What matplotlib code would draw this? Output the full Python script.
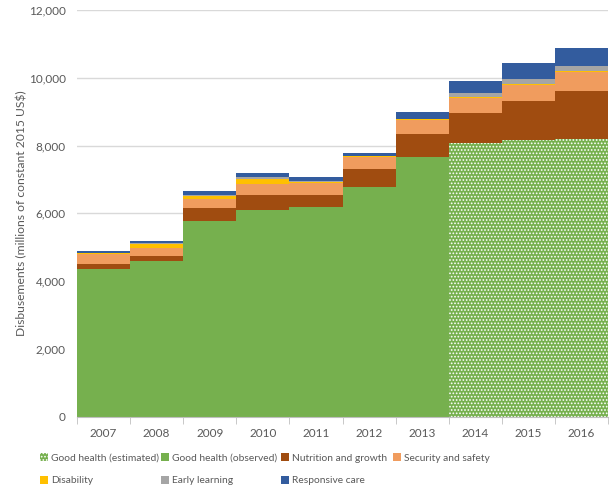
import matplotlib.pyplot as plt
import numpy as np

plt.rcParams['font.family'] = ['Lato', 'DejaVu Sans']
plt.rcParams['hatch.color'] = 'white'
plt.rcParams['hatch.linewidth'] = 0.8

years = ['2007', '2008', '2009', '2010', '2011', '2012', '2013', '2014', '2015', '2016']
health_obs = [4350, 4580, 5760, 6100, 6200, 6790, 7660, 0, 0, 0]
health_est = [0, 0, 0, 0, 0, 0, 0, 8070, 8170, 8200]
nutrition = [170, 170, 390, 440, 345, 510, 680, 900, 1130, 1410]
security = [270, 240, 280, 320, 340, 370, 420, 440, 490, 570]
disability = [30, 110, 70, 150, 35, 10, 10, 10, 10, 10]
early = [20, 20, 40, 60, 45, 20, 10, 130, 170, 170]
responsive = [60, 60, 130, 130, 100, 90, 200, 360, 460, 520]

fig = plt.figure(figsize=(6.15, 4.95), dpi=100)
ax = fig.add_axes([0.125, 0.158, 0.864, 0.822])

x = np.arange(len(years))
bottom = np.zeros(len(years))

handles = {}
h = ax.bar(x, health_obs, width=1.0, bottom=bottom, color='#76B04E', linewidth=0, zorder=2)
handles['Good health (observed)'] = h
bottom += health_obs
h = ax.bar(x, health_est, width=1.0, bottom=bottom, color='#76B04E', linewidth=0,
           hatch='.....', zorder=2)
handles['Good health (estimated)'] = h
bottom += health_est

layers = [('Nutrition and growth', nutrition, '#A04C10'),
          ('Security and safety', security, '#F09C5E'),
          ('Disability', disability, '#FFC000'),
          ('Early learning', early, '#A5A5A5'),
          ('Responsive care', responsive, '#335C9E')]
for name, vals, col in layers:
    h = ax.bar(x, vals, width=1.0, bottom=bottom, color=col, linewidth=0, zorder=2)
    handles[name] = h
    bottom += vals

ax.set_xlim(-0.5, 9.5)
ax.set_ylim(0, 12000)
ax.set_yticks(np.arange(0, 12001, 2000))
ax.set_yticklabels([f'{v:,}' for v in range(0, 12001, 2000)])
ax.yaxis.grid(True, color='#D9D9D9', linewidth=1, zorder=0)
ax.set_axisbelow(True)
ax.tick_params(axis='y', length=0, labelsize=8.5, labelcolor='#595959', pad=8)

ax.set_xticks(x)
ax.set_xticklabels(years)
ax.set_xticks(np.arange(-0.5, 10, 1), minor=True)
ax.tick_params(axis='x', which='major', length=0, labelsize=8.5, labelcolor='#595959', pad=8)
ax.tick_params(axis='x', which='minor', length=5, color='#BFBFBF')

for s in ['top', 'right', 'left']:
    ax.spines[s].set_visible(False)
ax.spines['bottom'].set_color('#BFBFBF')

ax.set_ylabel('Disbusements (millions of constant 2015 US$)', fontsize=8.7,
              color='#595959', labelpad=1)

# legend laid out in fixed-width columns, as in the original
columns = [['Good health (estimated)', 'Disability'],
           ['Good health (observed)', 'Early learning'],
           ['Nutrition and growth', 'Responsive care'],
           ['Security and safety']]
col_x = [0.065, 0.262, 0.457, 0.639]
for cx, names in zip(col_x, columns):
    fig.legend([handles[k] for k in names], names, loc='upper left',
               bbox_to_anchor=(cx, 0.084), frameon=False, fontsize=7.4,
               labelcolor='#595959', handlelength=0.75, handleheight=0.75,
               handletextpad=0.35, labelspacing=1.3, borderpad=0, borderaxespad=0)

fig.savefig('out.png', dpi=100)
